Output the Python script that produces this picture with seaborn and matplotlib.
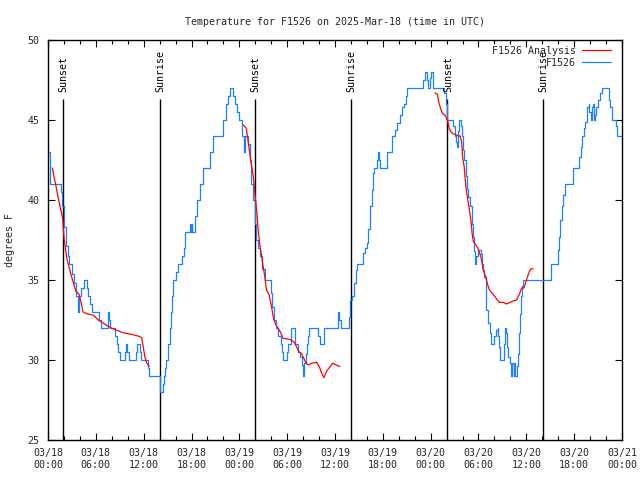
import matplotlib
matplotlib.use('Agg')
from matplotlib import pyplot as plt
from matplotlib.ticker import MultipleLocator
import numpy as np
import pandas as pd
import seaborn as sns

# hours since 03/18 00:00 UTC
station_hours = [0.0, 0.25, 1.6, 1.75, 2.0, 2.2, 2.5, 2.6, 3.05, 3.2, 3.5, 3.8, 3.9, 4.2,
                 4.55, 4.9, 5.05, 5.3, 5.5, 6.4, 6.7, 7.5, 7.65, 7.8, 8.4, 8.6, 8.8, 9.0,
                 9.6, 9.8, 9.95, 10.1, 11.1, 11.2, 11.55, 11.65, 12.6, 12.7, 14.1, 14.45,
                 14.55, 14.7, 14.85, 15.1, 15.3, 15.45, 15.55, 15.7, 16.0, 16.3, 16.8, 17.0,
                 17.2, 17.8, 17.9, 18.0, 18.1, 18.45, 18.65, 19.05, 19.5, 20.3, 20.75, 22.0,
                 22.3, 22.6, 22.8, 23.15, 23.45, 23.75, 24.0, 24.3, 24.6, 24.75, 25.1, 25.3,
                 25.5, 25.7, 25.95, 26.1, 26.4, 26.6, 26.9, 27.2, 28.0, 28.15, 28.35, 28.6,
                 28.9, 29.2, 29.4, 29.5, 29.95, 30.1, 30.5, 30.95, 31.4, 31.6, 31.9, 32.0,
                 32.15, 32.3, 32.45, 32.6, 32.75, 33.9, 34.1, 34.6, 36.4, 36.55, 36.7, 37.7,
                 37.9, 38.1, 38.4, 38.6, 38.8, 39.55, 39.8, 40.0, 40.2, 40.4, 40.6, 40.8,
                 40.95, 41.3, 41.45, 41.55, 41.7, 42.5, 43.2, 43.5, 43.8, 44.1, 44.35, 44.6,
                 44.9, 45.0, 47.1, 47.35, 47.6, 47.7, 47.9, 48.1, 48.25, 49.7, 49.95, 50.1,
                 50.85, 51.05, 51.2, 51.3, 51.4, 51.55, 51.8, 51.9, 52.1, 52.2, 52.4, 52.5,
                 52.7, 52.9, 53.15, 53.25, 53.4, 53.55, 53.7, 53.9, 54.3, 54.5, 54.6, 54.75,
                 54.9, 55.0, 55.2, 55.45, 55.6, 56.0, 56.2, 56.4, 56.5, 56.6, 56.75, 57.2,
                 57.3, 57.45, 57.6, 57.75, 57.95, 58.1, 58.25, 58.4, 58.5, 58.6, 58.8, 58.9,
                 59.1, 59.2, 59.35, 59.5, 59.6, 63.05, 64.0, 64.15, 64.2, 64.45, 64.65, 64.85,
                 65.8, 65.9, 66.6, 66.8, 67.0, 67.2, 67.4, 67.6, 67.8, 67.9, 68.1, 68.2,
                 68.3, 68.5, 68.65, 68.8, 69.0, 69.25, 69.45, 70.35, 70.55, 70.8, 71.3, 71.4,
                 72.0]
station_temp = [43.0, 41.0, 40.5, 39.6, 38.3, 37.1, 36.5, 36.0, 35.4, 34.8, 34.0, 33.0, 34.0, 34.5,
                35.0, 34.5, 34.0, 33.5, 33.0, 32.5, 32.0, 33.0, 32.5, 32.0, 31.5, 31.0, 30.5, 30.0,
                30.5, 31.0, 30.5, 30.0, 30.5, 31.0, 30.5, 30.0, 29.5, 29.0, 28.0, 28.5,
                29.0, 29.5, 30.0, 31.0, 32.0, 33.0, 34.0, 35.0, 35.5, 36.0, 36.5, 37.0,
                38.0, 38.5, 38.0, 38.5, 38.0, 39.0, 40.0, 41.0, 42.0, 43.0, 44.0, 45.0,
                46.0, 46.5, 47.0, 46.5, 46.0, 45.5, 45.0, 44.0, 43.0, 44.0, 43.5, 42.5,
                41.0, 40.0, 38.5, 37.5, 37.0, 36.5, 35.7, 35.0, 34.2, 33.3, 32.5, 32.0,
                31.5, 31.0, 30.5, 30.0, 30.5, 31.0, 32.0, 31.0, 30.5, 30.2, 29.7, 29.0,
                29.8, 30.4, 31.0, 31.5, 32.0, 31.5, 31.0, 32.0, 33.0, 32.5, 32.0, 32.7,
                33.75, 34.0, 34.8, 35.6, 36.0, 36.7, 37.0, 37.3, 38.2, 39.6, 40.6, 41.7,
                42.0, 42.5, 43.0, 42.5, 42.0, 43.0, 44.0, 44.4, 44.8, 45.3, 45.8, 46.0,
                46.5, 47.0, 47.5, 48.0, 47.5, 47.0, 47.6, 48.0, 47.0, 46.7, 46.0, 45.0,
                44.6, 44.0, 43.6, 43.3, 44.3, 45.0, 44.6, 44.0, 43.1, 42.5, 41.5, 40.7,
                40.2, 39.6, 38.5, 37.7, 36.8, 36.0, 36.5, 36.9, 36.6, 36.0, 35.6, 35.2,
                34.2, 33.1, 32.3, 31.7, 31.0, 31.5, 31.9, 32.0, 31.5, 30.8, 30.0, 31.0,
                32.0, 31.7, 30.8, 30.2, 29.8, 29.0, 29.8, 29.0, 29.8, 29.0, 29.6, 30.4,
                31.7, 32.9, 34.0, 34.6, 35.0, 36.0, 36.9, 37.7, 38.75, 39.6, 40.3, 41.0,
                41.7, 42.0, 42.7, 43.3, 44.0, 44.5, 44.9, 45.8, 46.0, 45.5, 45.0, 45.8,
                46.0, 45.0, 45.3, 45.8, 46.25, 46.7, 47.0, 46.25, 45.8, 45.0, 44.6, 44.0,
                44.0]

# analysis, three separate overnight runs
analysis1_hours = [0.55, 0.75, 0.95, 1.1, 1.3, 1.5, 1.7, 1.85, 2.0, 2.2, 2.4, 2.7, 2.9, 3.2, 3.5,
                   3.9, 4.15, 4.4, 4.85, 5.7, 6.3, 6.95, 7.55, 8.4, 9.45, 10.5, 11.3, 11.75,
                   11.95, 12.15, 12.4, 12.7]
analysis1_temp = [42.0, 41.45, 41.0, 40.6, 40.1, 39.6, 39.2, 38.75, 37.7, 36.9, 36.25, 35.7, 35.3,
                  34.8, 34.3, 34.1, 33.6, 33.0, 32.9, 32.8, 32.5, 32.3, 32.1, 31.9, 31.7, 31.6,
                  31.5, 31.4, 30.8, 30.2, 29.8, 29.6]
analysis2_hours = [24.5, 24.85, 25.0, 25.2, 25.45, 25.75, 25.95, 26.2, 26.4, 26.6, 26.8, 27.0,
                   27.2, 27.4, 27.75, 27.85, 28.05, 28.25, 28.5, 28.7, 29.1, 29.5, 30.15, 30.55,
                   30.9, 31.2, 31.5, 31.8, 32.1, 32.35, 32.65, 33.1, 33.7, 34.1, 34.3, 34.6,
                   34.95, 35.4, 35.7, 36.1, 36.6]
analysis2_temp = [44.7, 44.5, 44.06, 43.3, 42.4, 41.5, 40.4, 39.2, 37.9, 37.1, 36.5, 35.8, 35.2,
                  34.4, 34.06, 33.75, 33.3, 32.7, 32.3, 32.1, 31.8, 31.35, 31.3, 31.25, 31.1,
                  30.8, 30.5, 30.4, 30.1, 29.8, 29.7, 29.8, 29.85, 29.5, 29.2, 28.9, 29.3, 29.6,
                  29.8, 29.7, 29.6]
analysis3_hours = [48.55, 48.85, 49.0, 49.25, 49.5, 49.8, 50.1, 50.35, 50.65, 51.05, 51.5, 51.7,
                   51.9, 52.0, 52.2, 52.3, 52.45, 52.6, 52.8, 53.1, 53.2, 53.35, 53.65, 53.9,
                   54.2, 54.4, 54.6, 54.9, 55.15, 55.35, 55.65, 56.0, 56.3, 56.6, 57.1, 57.5,
                   57.95, 58.4, 58.8, 59.0, 59.2, 59.4, 59.7, 59.95, 60.15, 60.35, 60.6, 60.85]
analysis3_temp = [46.7, 46.6, 46.15, 45.7, 45.4, 45.3, 45.0, 44.4, 44.2, 44.1, 44.0, 44.0, 43.6,
                  42.7, 42.1, 41.5, 40.7, 40.2, 39.6, 38.5, 37.9, 37.4, 37.2, 37.0, 36.6, 36.25,
                  35.6, 35.2, 34.7, 34.4, 34.2, 34.0, 33.8, 33.6, 33.6, 33.5, 33.6, 33.7, 33.75,
                  34.0, 34.2, 34.5, 34.5, 34.9, 35.2, 35.5, 35.7, 35.7]

sun_hours = [1.88, 14.05, 25.97, 38.0, 50.06, 62.1]
sun_labels = ['Sunset', 'Sunrise', 'Sunset', 'Sunrise', 'Sunset', 'Sunrise']

tick_hours = list(range(0, 73, 6))
tick_labels = ['03/18\n00:00', '03/18\n06:00', '03/18\n12:00', '03/18\n18:00',
               '03/19\n00:00', '03/19\n06:00', '03/19\n12:00', '03/19\n18:00',
               '03/20\n00:00', '03/20\n06:00', '03/20\n12:00', '03/20\n18:00',
               '03/21\n00:00']

station = pd.DataFrame({'hours': station_hours, 'temp': station_temp})
analysis = pd.concat([
    pd.DataFrame({'hours': analysis1_hours, 'temp': analysis1_temp, 'run': 1}),
    pd.DataFrame({'hours': analysis2_hours, 'temp': analysis2_temp, 'run': 2}),
    pd.DataFrame({'hours': analysis3_hours, 'temp': analysis3_temp, 'run': 3}),
], ignore_index=True)

sns.set_style('ticks')
plt.rcParams['font.family'] = ['DejaVu Sans Mono']
fs = 7.2

fig = plt.figure(figsize=(6.4, 4.8), dpi=100)
ax = fig.add_axes([48 / 640, 1 - 440 / 480, 574 / 640, 400 / 480])

red = '#ff0000'
blue = '#1a80ff'

# sunrise / sunset markers
ax.vlines(sun_hours, 25, 46.3, color='black', lw=1.0, zorder=1)
for h, lab in zip(sun_hours, sun_labels):
    ax.text(h + 0.1, 46.75, lab, rotation=90, ha='center', va='bottom',
            fontsize=fs, color='black')

sns.lineplot(data=analysis, x='hours', y='temp', units='run', estimator=None,
             color=red, lw=0.9, ax=ax, legend=False, zorder=3)
sns.lineplot(data=station, x='hours', y='temp', color=blue, lw=0.9,
             drawstyle='steps-post', ax=ax, legend=False, zorder=2)

ax.set_xlim(0, 72)
ax.set_ylim(25, 50)
ax.set_xticks(tick_hours)
ax.set_xticklabels(tick_labels, fontsize=fs)
ax.xaxis.set_minor_locator(MultipleLocator(2))
ax.set_yticks(range(25, 51, 5))
ax.tick_params(axis='y', labelsize=fs)
ax.tick_params(which='major', direction='in', length=5, width=0.8,
               top=True, right=True, color='black', pad=6)
ax.tick_params(which='minor', direction='in', length=3, width=0.8,
               top=True, bottom=True, color='black')
for s in ax.spines.values():
    s.set_color('black')
    s.set_linewidth(1.0)

ax.set_xlabel('')
ax.set_ylabel('degrees F', fontsize=fs, labelpad=9)
ax.set_title('Temperature for F1526 on 2025-Mar-18 (time in UTC)', fontsize=fs, pad=11)

lines = ax.get_lines()
ax.legend([lines[0], lines[-1]], ['F1526 Analysis', 'F1526'], loc='upper right',
          bbox_to_anchor=(0.98, 0.985), frameon=False, markerfirst=False, fontsize=fs,
          handlelength=2.9, handletextpad=0.6, borderaxespad=0, borderpad=0,
          labelspacing=0.2)

fig.savefig('out.png', dpi=100)
